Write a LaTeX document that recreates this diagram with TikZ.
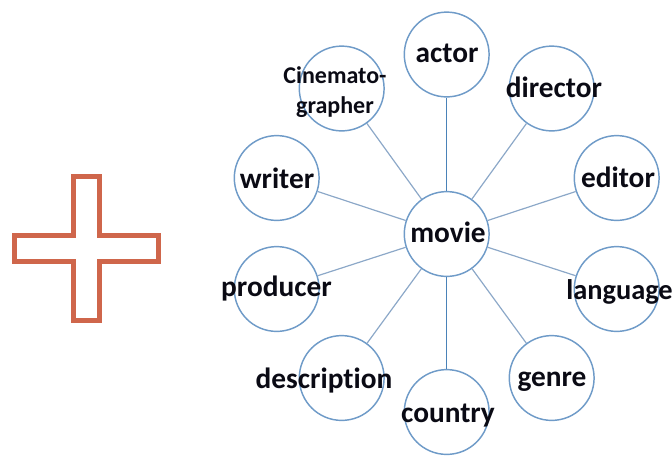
\documentclass[tikz,border=0pt]{standalone}
\usepackage{fontspec}
\setmainfont[Ligatures=NoCommon]{Carlito}
\definecolor{ringblue}{HTML}{6F9BC8}
\definecolor{stemblue}{HTML}{4A82B8}
\definecolor{spokeblue}{HTML}{8CA8C8}
\definecolor{crossred}{HTML}{CF664B}
\definecolor{inkdark}{HTML}{0A0A14}
\tikzset{
  ring/.style={circle,draw=ringblue,line width=1.1pt,minimum size=63.6pt,inner sep=0pt,fill=none},
  tag/.style={font=\fontsize{22}{24}\selectfont\bfseries,text=inkdark,inner sep=0pt},
  smalltag/.style={font=\fontsize{18}{22.5}\selectfont\bfseries,text=inkdark,inner sep=0pt,align=center},
  spoke/.style={draw=spokeblue,line width=0.9pt},
  stem/.style={draw=stemblue,line width=1.1pt},
}
\begin{document}
\begin{tikzpicture}[x=0.75pt,y=-0.75pt]
\useasboundingbox (0,0) rectangle (672,455);
\draw[crossred,line width=4pt,miter limit=10]
  (73.5,176.5) -- (99.2,176.5) -- (99.2,235.5) -- (158.5,235.5) -- (158.5,261.5) -- (99.2,261.5)
  -- (99.2,320.7) -- (73.5,320.7) -- (73.5,261.5) -- (14.3,261.5) -- (14.3,235.5) -- (73.5,235.5) -- cycle;
\node[ring] (movie) at (446.7,234) {};
\node[ring] (actor) at (446.7,54.5) {};
\node[ring] (cine) at (341.7,88.5) {};
\node[ring] (director) at (551.7,88.5) {};
\node[ring] (writer) at (276.7,178) {};
\node[ring] (editor) at (616.7,178) {};
\node[ring] (producer) at (276.7,289) {};
\node[ring] (language) at (616.7,289) {};
\node[ring] (description) at (341.7,378) {};
\node[ring] (genre) at (551.7,378) {};
\node[ring] (country) at (446.7,412) {};
\draw[stem] (movie) -- (actor);
\draw[stem] (movie) -- (country);
\foreach \n in {cine,director,writer,editor,producer,language,description,genre}
  \draw[spoke] (movie) -- (\n);
\node[tag] (tmovie) at (448,232) {movie};
\node[tag] (tactor) at (447,53) {actor};
\node[smalltag] (tcine) at (335,92) {Cinemato-\\grapher};
\node[tag] (tdirector) at (554,87) {director};
\node[tag] (twriter) at (277,178) {writer};
\node[tag] (teditor) at (618,177) {editor};
\node[tag] (tproducer) at (276.5,289) {producer};
\node[tag,font=\fontsize{21.3}{24}\selectfont\bfseries] (tlanguage) at (619.5,292) {language};
\node[tag] (tdescription) at (324,381) {description};
\node[tag] (tgenre) at (552,382) {genre};
\node[tag] (tcountry) at (448,416) {country};
\end{tikzpicture}
\end{document}
